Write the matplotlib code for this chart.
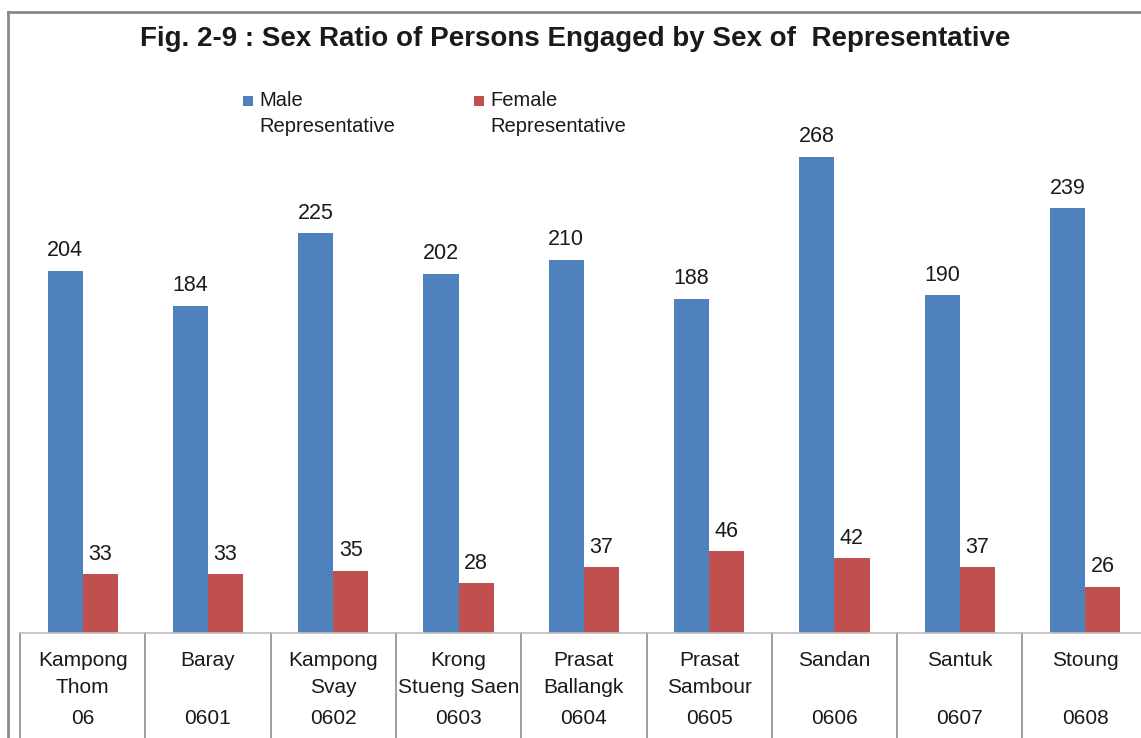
import matplotlib
matplotlib.use("Agg")
import matplotlib.pyplot as plt
from matplotlib.lines import Line2D
from matplotlib.patches import Rectangle
from matplotlib.transforms import blended_transform_factory
import numpy as np

plt.rcParams['font.family'] = ['Liberation Sans', 'DejaVu Sans']

names = ["Kampong\nThom", "Baray", "Kampong\nSvay", "Krong\nStueng Saen", "Prasat\nBallangk",
         "Prasat\nSambour", "Sandan", "Santuk", "Stoung"]
codes = ["06", "0601", "0602", "0603", "0604", "0605", "0606", "0607", "0608"]
male = [204, 184, 225, 202, 210, 188, 268, 190, 239]
female = [33, 33, 35, 28, 37, 46, 42, 37, 26]
series_names = ["Male\nRepresentative", "Female\nRepresentative"]
title = "Fig. 2-9 : Sex Ratio of Persons Engaged by Sex of  Representative"

BLUE = "#4F81BD"
RED = "#C0504D"
TXT = "#1a1a1a"
W, H = 1141, 738

fig = plt.figure(figsize=(W/100, H/100), dpi=100)
fig.patch.set_facecolor("white")

# axes: baseline at y=633 px, left at x=20 px, category width ~125.3 px
ax_left = 20 / W
ax_w = 9 * 125.3 / W
ax_bottom = (H - 633) / H
ax_h = 533 / H
ax = fig.add_axes([ax_left, ax_bottom, ax_w, ax_h])
ax.set_xlim(-0.5, 8.5)
ax.set_ylim(0, 300)
for s in ax.spines.values():
    s.set_visible(False)
ax.set_xticks([])
ax.set_yticks([])

x = np.arange(len(names))
bw = 0.28
b1 = ax.bar(x - bw/2, male, bw, color=BLUE, zorder=2)
b2 = ax.bar(x + bw/2, female, bw, color=RED, zorder=2)
for bars, vals in ((b1, male), (b2, female)):
    for r, v in zip(bars, vals):
        ax.annotate(str(v), (r.get_x() + r.get_width()/2, v), xytext=(0, 7),
                    textcoords="offset points", ha="center", va="bottom",
                    fontsize=15.5, color=TXT)

# baseline and category separators
tr = blended_transform_factory(ax.transData, ax.transAxes)
ax.plot([-0.5, 8.5], [0, 0], transform=tr, color="#bfbfbf", lw=1.2, clip_on=False, zorder=3)
sep_bottom = -(738 - 633) / 533
for xs in np.arange(-0.5, 9.0, 1.0):
    ax.plot([xs, xs], [0, sep_bottom], transform=tr, color="#8c8c8c", lw=1.2, clip_on=False)

def fy(ypix):
    return (633 - ypix) / 533

for xi, nm, cd in zip(x, names, codes):
    lines = nm.split("\n")
    for k, ln in enumerate(lines):
        ax.text(xi, fy(661 + 26.5*k), ln, transform=tr, ha="center", va="center",
                fontsize=15, color=TXT)
    ax.text(xi, fy(718), cd, transform=tr, ha="center", va="center", fontsize=15, color=TXT)

# title
fig.text(575/W, 1 - 39/H, title, ha="center", va="center", fontsize=20,
         fontweight="bold", color=TXT)

# legend (manual)
for (sx, tx), col, lab in zip(((243, 259), (474, 490)), (BLUE, RED), series_names):
    fig.patches.append(Rectangle((sx/W, 1 - 106/H), 10/W, 10/H, transform=fig.transFigure,
                                 facecolor=col, edgecolor="none"))
    l1, l2 = lab.split("\n")
    fig.text(tx/W, 1 - 101/H, l1, ha="left", va="center", fontsize=14.5, color=TXT)
    fig.text(tx/W, 1 - 126/H, l2, ha="left", va="center", fontsize=14.5, color=TXT)

# outer border (top and left)
fig.lines.append(Line2D([8/W, 1], [1 - 12/H, 1 - 12/H], transform=fig.transFigure,
                        color="#8a8a8a", lw=2))
fig.lines.append(Line2D([8/W, 8/W], [0, 1 - 12/H], transform=fig.transFigure,
                        color="#8a8a8a", lw=2))

fig.savefig("out.png", dpi=100)
